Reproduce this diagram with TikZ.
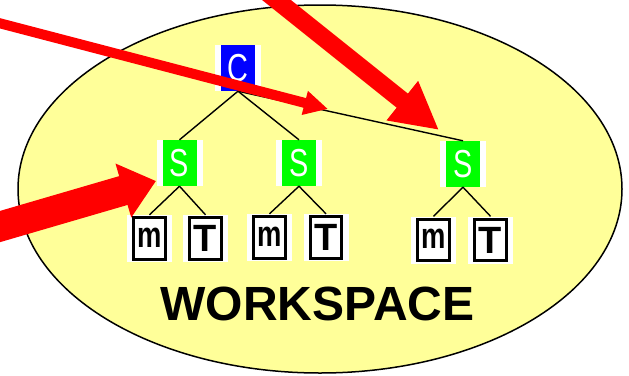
\documentclass[tikz,border=0pt]{standalone}
\usepackage{fontspec}
\setmainfont{Liberation Sans}
\usepackage{graphicx}
\usetikzlibrary{arrows.meta}
\definecolor{wsyellow}{RGB}{255,255,153}
\tikzset{
  icon/.style={minimum width=46pt, minimum height=46pt, inner sep=0pt, fill=white,
    text=white, font=\fontsize{39}{39}\selectfont},
  cbox/.style={icon, path picture={\fill[blue] ([xshift=6pt]path picture bounding box.south west)
    rectangle ([xshift=-6pt]path picture bounding box.north east);}},
  sbox/.style={icon, path picture={\fill[green] ([xshift=6pt]path picture bounding box.south west)
    rectangle ([xshift=-6pt]path picture bounding box.north east);}},
  leaf/.style={minimum width=45pt, minimum height=47pt, inner sep=0pt, fill=white,
    font=\fontsize{38}{38}\selectfont\bfseries,
    path picture={\draw[line width=3.3pt] ([shift={(-15.8pt,-20.8pt)}]path picture bounding box.center)
    rectangle ++(31.6pt,41.6pt);}},
  branch/.style={line width=1.4pt},
  bigarrow/.style={red, line width=#1},
}
\newcommand{\thin}[1]{\scalebox{0.74}[1]{#1}}
\newcommand{\leafm}{\raisebox{2pt}{\scalebox{0.72}[0.95]{\bfseries m}}}
\begin{document}
\begin{tikzpicture}[x=1pt,y=-1pt]
\useasboundingbox (0,0) rectangle (629,375);
\filldraw[fill=wsyellow, line width=1.5pt] (320,189) ellipse [x radius=302pt, y radius=184pt];
\node[font=\bfseries\fontsize{48}{48}\selectfont, anchor=base] (ws) at (317.5,320) {WORKSPACE};
% tree
\node[cbox] (c) at (238,68) {\thin{C}};
\node[sbox] (s1) at (179.5,163) {\thin{S}};
\node[sbox] (s2) at (299,163) {\thin{S}};
\node[sbox] (s3) at (463,164) {\thin{S}};
\node[leaf] (m1) at (149.5,238.5) {\leafm};
\node[leaf] (t1) at (205.5,238.5) {T};
\node[leaf] (m2) at (269.5,237.5) {\leafm};
\node[leaf] (t2) at (326,237.5) {T};
\node[leaf] (m3) at (433.5,240) {\leafm};
\node[leaf] (t3) at (490.5,240) {T};
\draw[branch] (c.south) -- (s1.north);
\draw[branch] (c.south) -- (s2.north);
\draw[branch] (c.south) -- (s3.north);
\foreach \s/\m/\t in {s1/m1/t1, s2/m2/t2, s3/m3/t3} {
  \draw[branch] (\s.south) -- (\m.north);
  \draw[branch] (\s.south) -- (\t.north);
}
% arrows
\coordinate (a1) at (264,-10);
\coordinate (b1) at (439,130);
\coordinate (a2) at (-5,22);
\coordinate (b2) at (328,109);
\coordinate (a3) at (-5,228);
\coordinate (b3) at (156,181);
\draw[bigarrow=18pt, -{Triangle[length=47pt,width=47pt]}] (a1) -- (b1);
\draw[bigarrow=10pt, -{Triangle[length=24pt,width=23pt]}] (a2) -- (b2);
\draw[bigarrow=30pt, -{Triangle[length=34pt,width=54pt]}] (a3) -- (b3);
\end{tikzpicture}
\end{document}
